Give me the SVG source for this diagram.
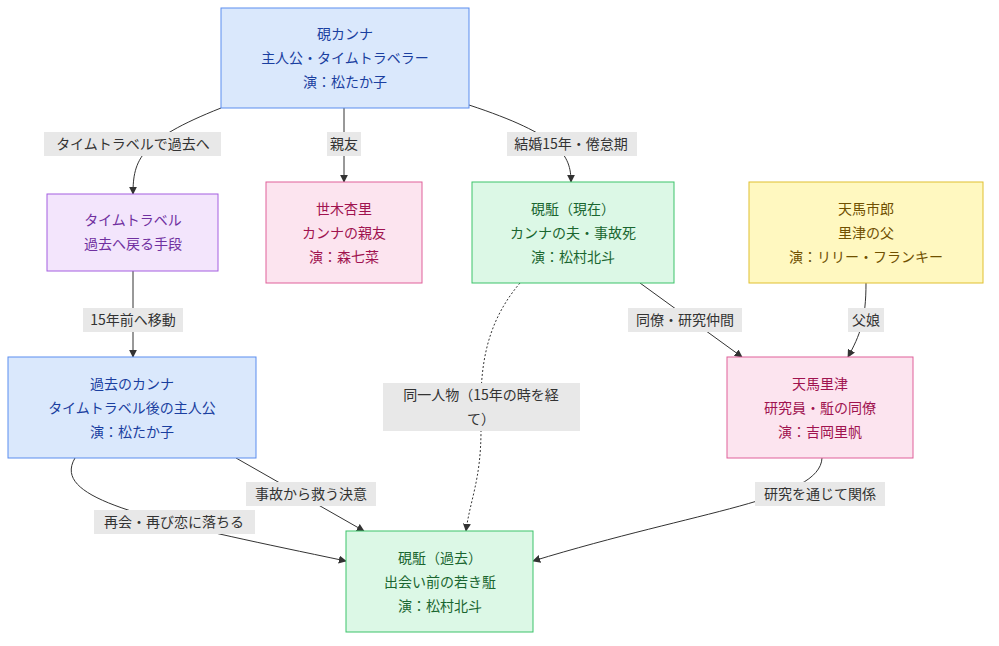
<svg xmlns="http://www.w3.org/2000/svg" width="999" height="646" viewBox="0 0 999 646">
<defs>
<marker id="arr" viewBox="0 0 10 10" refX="9" refY="5" markerWidth="8" markerHeight="8" orient="auto"><path d="M0,0 L10,5 L0,10 z" fill="#333"/></marker>
<style>
text{font-family:"Noto Sans CJK JP","Noto Sans",sans-serif;font-size:14px;text-anchor:middle}
.e{fill:none;stroke:#333;stroke-width:1;marker-end:url(#arr)}
.lb{fill:#e8e8e8}
.lt{fill:#333}
.blue rect{fill:#dae8fc;stroke:#5b8def}.blue text{fill:#1a3fa0}
.pur rect{fill:#f3e5fc;stroke:#a45fe0}.pur text{fill:#7030a0}
.pink rect{fill:#fce4ef;stroke:#e0609a}.pink text{fill:#a0134f}
.grn rect{fill:#dcf8e6;stroke:#3cc36a}.grn text{fill:#1a6630}
.yel rect{fill:#fff8c0;stroke:#e0c030}.yel text{fill:#705000}
</style>
</defs>
<rect width="999" height="646" fill="#fff"/>
<g id="edges">
<path class="e" d="M221,108 C140,140 133,160 133,194"/>
<path class="e" d="M344,108 L344,182"/>
<path class="e" d="M469,105 C560,135 571,155 571,182"/>
<path class="e" d="M133,271 L133,357"/>
<path class="e" d="M866,283 C866,320 860,335 848,357"/>
<path class="e" d="M640,283 L742,357"/>
<path class="e" d="M520,283 C480,330 480,380 481,430 C481,480 470,500 466,531" stroke-dasharray="2,2"/>
<path class="e" d="M236,458 L364,531"/>
<path class="e" d="M75,458 C50,500 150,520 346,561"/>
<path class="e" d="M822,458 C820,500 700,510 533,561"/>
<g class="lb">
<rect x="44" y="132" width="177" height="24"/>
<rect x="327" y="132" width="34" height="24"/>
<rect x="507" y="132" width="130" height="24"/>
<rect x="83" y="308" width="100" height="24"/>
<rect x="848" y="308" width="36" height="24"/>
<rect x="628" y="308" width="114" height="24"/>
<rect x="383" y="383" width="197" height="48"/>
<rect x="246" y="482" width="130" height="24"/>
<rect x="94" y="510" width="161" height="24"/>
<rect x="755" y="482" width="130" height="24"/>
</g>
<g class="lt">
<text x="133" y="149">タイムトラベルで過去へ</text>
<text x="344" y="149">親友</text>
<text x="571" y="149">結婚15年・倦怠期</text>
<text x="133" y="325">15年前へ移動</text>
<text x="866" y="325">父娘</text>
<text x="685" y="325">同僚・研究仲間</text>
<text x="481" y="400">同一人物（15年の時を経</text>
<text x="481" y="424">て）</text>
<text x="311" y="499">事故から救う決意</text>
<text x="174" y="527">再会・再び恋に落ちる</text>
<text x="820" y="499">研究を通じて関係</text>
</g>
</g>
<g id="kanna" class="blue"><rect x="221" y="8" width="248" height="100"/><text x="345" y="39">硯カンナ</text><text x="345" y="63">主人公・タイムトラベラー</text><text x="345" y="87">演：松たか子</text></g>
<g id="tt" class="pur"><rect x="47" y="194" width="171" height="77"/><text x="133" y="225">タイムトラベル</text><text x="133" y="249">過去へ戻る手段</text></g>
<g id="anri" class="pink"><rect x="266" y="182" width="156" height="101"/><text x="344" y="214">世木杏里</text><text x="344" y="238">カンナの親友</text><text x="344" y="262">演：森七菜</text></g>
<g id="kakeru" class="grn"><rect x="472" y="182" width="202" height="101"/><text x="573" y="214">硯駈（現在）</text><text x="573" y="238">カンナの夫・事故死</text><text x="573" y="262">演：松村北斗</text></g>
<g id="ichiro" class="yel"><rect x="749" y="182" width="234" height="101"/><text x="866" y="214">天馬市郎</text><text x="866" y="238">里津の父</text><text x="866" y="262">演：リリー・フランキー</text></g>
<g id="pastkanna" class="blue"><rect x="8" y="357" width="248" height="101"/><text x="132" y="389">過去のカンナ</text><text x="132" y="413">タイムトラベル後の主人公</text><text x="132" y="437">演：松たか子</text></g>
<g id="ritsu" class="pink"><rect x="727" y="357" width="186" height="101"/><text x="820" y="389">天馬里津</text><text x="820" y="413">研究員・駈の同僚</text><text x="820" y="437">演：吉岡里帆</text></g>
<g id="pastkakeru" class="grn"><rect x="346" y="531" width="187" height="101"/><text x="440" y="563">硯駈（過去）</text><text x="440" y="587">出会い前の若き駈</text><text x="440" y="611">演：松村北斗</text></g>
</svg>
